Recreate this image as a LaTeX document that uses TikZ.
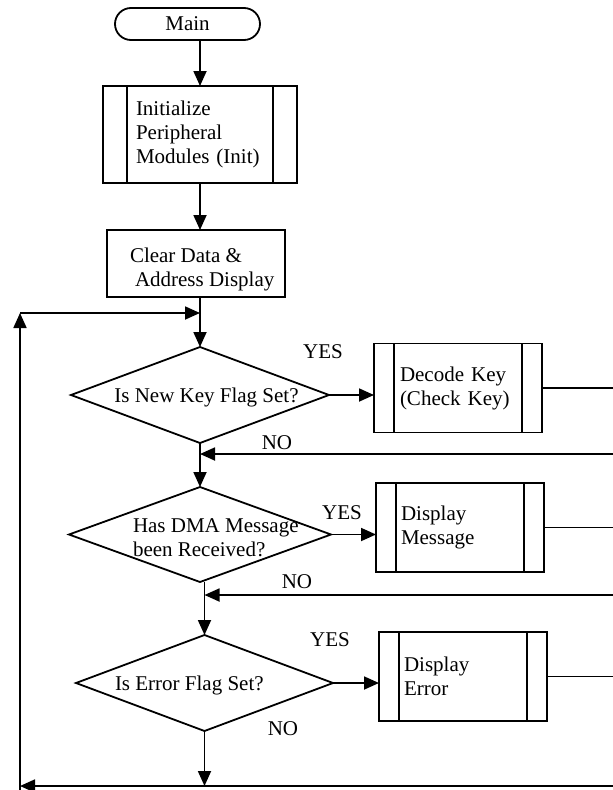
\documentclass[tikz,border=0pt]{standalone}
\usepackage{fontspec}
\setmainfont{Liberation Serif}
\usetikzlibrary{arrows.meta,calc,shapes.geometric}
\begin{document}
\begin{tikzpicture}[x=1pt,y=-1pt,
  every node/.style={font=\fontsize{21}{24}\selectfont, inner sep=0pt, outer sep=0pt},
  arr/.style={line width=1.8pt, -{Triangle[length=15pt,width=13pt]}},
  outline/.style={line width=1.4pt},
  terminal/.style={draw, line width=1.8pt, rounded corners=16pt, minimum width=145pt, minimum height=32pt},
  procbox/.style={draw, line width=1.8pt, rectangle, minimum width=168pt, minimum height=89pt},
  subproc/.style={procbox, path picture={
      \draw[line width=1.6pt]
        ([xshift=#1]path picture bounding box.north west) -- ([xshift=#1]path picture bounding box.south west)
        ([xshift=-#1]path picture bounding box.north east) -- ([xshift=-#1]path picture bounding box.south east);}},
  subproc/.default=20pt,
  decision/.style={draw, diamond, line width=1.8pt},
  lbl/.style={}
]
\useasboundingbox (0,0) rectangle (613,790);

% nodes
\node[terminal] (main) at (187.5,24) {Main};
\node[subproc=24pt, minimum width=194pt, minimum height=97pt, text width=128pt, inner xsep=33pt, align=left] (init) at (200,134.5) {Initialize\\Peripheral\\Modules (Init)};
\node[procbox, minimum width=178pt, minimum height=67pt] (clear) at (196,263.5) {};
\node[anchor=west, align=left] (cleartxt) at (130,269) {Clear Data \&\\\hspace*{5pt}Address Display};

\node[decision, minimum width=258pt, minimum height=96pt] (d1) at (200,395) {};
\node (t1) at (206.5,397) {Is New Key Flag Set?};
\node[subproc, text width=116pt, inner xsep=26pt, align=left] (decode) at (458,388) {Decode Key\\(Check Key)};

\node[decision, minimum width=262pt, minimum height=95pt] (d2) at (200,534.5) {};
\node[anchor=west, align=left] (t2) at (133,538) {Has DMA Message\\been Received?};
\node[subproc, text width=118pt, inner xsep=25pt, align=left] (dmsg) at (460,527.5) {Display\\Message};

\node[decision, minimum width=257pt, minimum height=96pt] (d3) at (204.5,683) {};
\node[anchor=west] (t3) at (115,685) {Is Error Flag Set?};
\node[subproc, text width=118pt, inner xsep=25pt, align=left] (derr) at (463,676.5) {Display\\Error};

% labels
\node[lbl] (yes1) at (323,352) {YES};
\node[lbl] (no1) at (277,443) {NO};
\node[lbl] (yes2) at (342,513) {YES};
\node[lbl] (no2) at (297,582) {NO};
\node[lbl] (yes3) at (330,640) {YES};
\node[lbl] (no3) at (283,729) {NO};

% coordinates at the picture edges
\coordinate (edge) at (613,0);
\coordinate (ret1) at (613,454);
\coordinate (ret2) at (613,595);
\coordinate (bot) at (613,786);
\coordinate (bl) at (20,786);
\coordinate (blow) at (20,790);
\coordinate (tl) at (20,313);

% main flow
\draw[arr] (main.south -| init.north) -- (init.north);
\draw[arr] (init.south) -- (init.south |- clear.north);
\draw[arr] (clear.south -| d1.north) -- (d1.north);
\draw[arr] (d1.south) -- (d2.north);
\draw[arr] (d2.south -| d3.north) -- (d3.north);
\draw[arr] (d3.south) -- (d3.south |- bot);

% yes branches
\draw[arr] (d1.east) -- (d1.east -| decode.west);
\draw[arr] (d2.east) -- (d2.east -| dmsg.west);
\draw[arr] (d3.east) -- (d3.east -| derr.west);

% outgoing lines to the right edge
\draw[outline] (decode.east) -- (decode.east -| edge);
\draw[outline] (dmsg.east) -- (dmsg.east -| edge);
\draw[outline] (derr.east) -- (derr.east -| edge);

% returns
\draw[arr] (ret1) -- (ret1 -| d1.south);
\draw[arr] (ret2) -- (ret2 -| d3.north);
\draw[arr] (bot) -- (bl);
\draw[arr] (blow) -- (tl);
\draw[arr] (tl) -- (tl -| d1.north);
\end{tikzpicture}
\end{document}
